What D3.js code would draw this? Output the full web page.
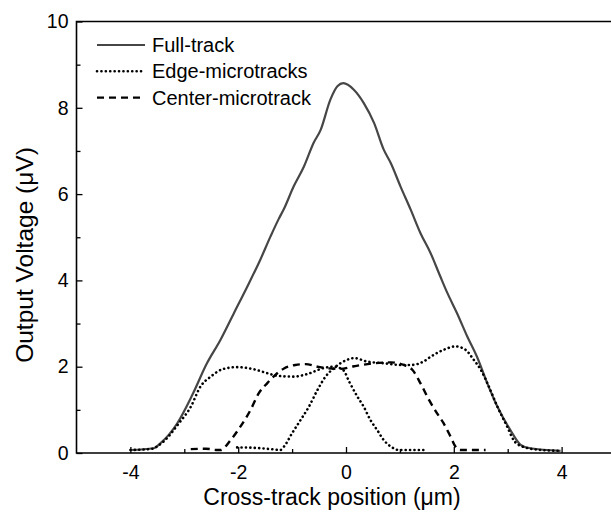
<!DOCTYPE html>
<html>
<head>
<meta charset="utf-8">
<script src="https://cdn.jsdelivr.net/npm/d3@7"></script>
<style>
  html, body { margin: 0; padding: 0; background: #fff; }
  svg { display: block; font-family: "Liberation Sans", Arial, sans-serif; }
</style>
</head>
<body>
<svg id="chart" width="611" height="513"></svg>
<script>
// Cross-track profiles of the read-back voltage
const fullX = [-4.0, -3.57, -3.44, -3.13, -2.85, -2.58, -2.33, -2.08, -1.83, -1.59, -1.40, -1.25, -1.15, -0.97, -0.78, -0.60, -0.47, -0.29, -0.16, -0.05, 0.145, 0.33, 0.52, 0.70, 0.83, 1.01, 1.20, 1.38, 1.57, 1.75, 1.88, 2.06, 2.25, 2.43, 2.62, 2.81, 3.05, 3.24, 3.42, 3.98];
const fullY = [0.07, 0.11, 0.23, 0.69, 1.35, 2.08, 2.62, 3.24, 3.86, 4.48, 5.02, 5.42, 5.66, 6.18, 6.64, 7.19, 7.49, 8.19, 8.50, 8.57, 8.42, 8.11, 7.65, 7.03, 6.72, 6.18, 5.64, 5.10, 4.63, 4.09, 3.71, 3.24, 2.70, 2.23, 1.62, 1.07, 0.53, 0.19, 0.11, 0.05];

const edgeLeftX = [-4.0, -3.63, -3.39, -3.10, -2.88, -2.70, -2.51, -2.27, -2.02, -1.71, -1.46, -1.28, -0.97, -0.72, -0.41, -0.23, -0.05, 0.06, 0.21, 0.33, 0.45, 0.58, 0.70, 0.83, 0.98, 1.47];
const edgeLeftY = [0.07, 0.09, 0.26, 0.69, 1.07, 1.54, 1.77, 1.95, 1.99, 1.94, 1.85, 1.79, 1.77, 1.83, 1.97, 2.00, 1.92, 1.65, 1.31, 1.07, 0.77, 0.53, 0.30, 0.15, 0.07, 0.07];

const edgeRightX = [-2.02, -1.70, -1.40, -1.22, -1.15, -1.00, -0.84, -0.69, -0.53, -0.38, -0.23, 0.02, 0.15, 0.39, 0.70, 1.01, 1.20, 1.44, 1.57, 1.81, 2.03, 2.22, 2.37, 2.50, 2.65, 2.81, 2.99, 3.11, 3.27, 3.61, 3.98];
const edgeRightY = [0.13, 0.12, 0.09, 0.07, 0.15, 0.46, 0.77, 1.07, 1.46, 1.77, 1.96, 2.16, 2.20, 2.12, 2.08, 2.04, 2.04, 2.12, 2.23, 2.39, 2.47, 2.39, 2.16, 1.93, 1.54, 1.07, 0.61, 0.30, 0.15, 0.07, 0.05];

const centerX = [-2.88, -2.60, -2.39, -2.33, -2.14, -1.96, -1.77, -1.62, -1.46, -1.31, -1.15, -0.94, -0.75, -0.53, -0.32, -0.10, 0.15, 0.52, 0.83, 1.07, 1.23, 1.38, 1.54, 1.69, 1.81, 1.94, 2.03, 2.12, 2.59];
const centerY = [0.09, 0.10, 0.07, 0.07, 0.30, 0.61, 1.00, 1.38, 1.62, 1.81, 1.96, 2.04, 2.06, 2.00, 1.96, 1.95, 2.01, 2.08, 2.10, 2.04, 1.93, 1.62, 1.23, 0.92, 0.69, 0.38, 0.15, 0.07, 0.07];

const xMajorTicks = [-4, -2, 0, 2, 4];
const xMinorTicks = [-3, -1, 1, 3];
const yMajorTicks = [0, 2, 4, 6, 8, 10];
const yMinorTicks = [1, 3, 5, 7, 9];

const legendLabels = ["Full-track", "Edge-microtracks", "Center-microtrack"];

const svg = d3.select("#chart");
const W = 611;
const plotLeft = 76.5, plotTop = 21.5, plotBottom = 453;

const x = d3.scaleLinear().domain([-5, 5]).range([plotLeft, plotLeft + 539]);
const y = d3.scaleLinear().domain([0, 10]).range([plotBottom, plotTop]);

const zip = (xs, ys) => xs.map((v, i) => [v, ys[i]]);
const line = d3.line().x(d => x(d[0])).y(d => y(d[1])).curve(d3.curveMonotoneX);

const styles = {
  full:   { stroke: "#464646", width: 2.2, dash: null, cap: "butt" },
  edge:   { stroke: "#000", width: 2.6, dash: "0.1,4.3", cap: "round" },
  center: { stroke: "#000", width: 2.4, dash: "7,5", cap: "butt" }
};

const plot = svg.append("g");
const series = [
  { data: zip(fullX, fullY), s: styles.full },
  { data: zip(edgeLeftX, edgeLeftY), s: styles.edge },
  { data: zip(edgeRightX, edgeRightY), s: styles.edge },
  { data: zip(centerX, centerY), s: styles.center }
];
series.forEach(d => {
  plot.append("path")
    .datum(d.data)
    .attr("d", line)
    .attr("fill", "none")
    .attr("stroke", d.s.stroke)
    .attr("stroke-width", d.s.width)
    .attr("stroke-linecap", d.s.cap)
    .attr("stroke-linejoin", "round")
    .attr("stroke-dasharray", d.s.dash);
});

// Axes: ticks point into the plot area
const fs = 19.5;
const xAxis = d3.axisBottom(x).tickValues(xMajorTicks).tickSize(-6).tickPadding(12)
  .tickFormat(d => d < 0 ? "-" + Math.abs(d) : String(d));
const gx = svg.append("g").attr("transform", `translate(0,${plotBottom})`).call(xAxis);
gx.select(".domain").remove();
gx.selectAll(".tick line").attr("stroke", "#000").attr("stroke-width", 1.3);
gx.selectAll("text").attr("font-size", fs).attr("fill", "#000");

const xMinor = d3.axisBottom(x).tickValues(xMinorTicks).tickSize(-4).tickFormat("");
const gxm = svg.append("g").attr("transform", `translate(0,${plotBottom})`).call(xMinor);
gxm.select(".domain").remove();
gxm.selectAll(".tick line").attr("stroke", "#000").attr("stroke-width", 1.3);

const yAxis = d3.axisLeft(y).tickValues(yMajorTicks).tickSize(-6).tickPadding(8);
const gy = svg.append("g").attr("transform", `translate(${plotLeft},0)`).call(yAxis);
gy.select(".domain").remove();
gy.selectAll(".tick line").attr("stroke", "#000").attr("stroke-width", 1.3);
gy.selectAll("text").attr("font-size", fs).attr("fill", "#000");

const yMinor = d3.axisLeft(y).tickValues(yMinorTicks).tickSize(-4).tickFormat("");
const gym = svg.append("g").attr("transform", `translate(${plotLeft},0)`).call(yMinor);
gym.select(".domain").remove();
gym.selectAll(".tick line").attr("stroke", "#000").attr("stroke-width", 1.3);

// Frame lines (left, bottom, top)
svg.append("path")
  .attr("d", `M${W},${plotTop} H${plotLeft} V${plotBottom} H${W}`)
  .attr("fill", "none").attr("stroke", "#000").attr("stroke-width", 1.6);

// Axis titles
svg.append("text")
  .attr("x", 332).attr("y", 505)
  .attr("text-anchor", "middle").attr("font-size", 23)
  .text("Cross-track position (\u03BCm)");
svg.append("text")
  .attr("transform", "translate(33,255) rotate(-90)")
  .attr("text-anchor", "middle").attr("font-size", 24.5)
  .text("Output Voltage (\u03BCV)");

// Legend
const lg = svg.append("g");
const legStyles = [styles.full, styles.edge, styles.center];
legendLabels.forEach((lab, i) => {
  const ly = 45 + i * 26.3;
  const s = legStyles[i];
  lg.append("line")
    .attr("x1", 97).attr("x2", 145).attr("y1", ly).attr("y2", ly)
    .attr("stroke", s.stroke).attr("stroke-width", s.width)
    .attr("stroke-linecap", s.cap)
    .attr("stroke-dasharray", s.dash);
  lg.append("text")
    .attr("x", 152).attr("y", ly + 7)
    .attr("font-size", 20)
    .text(lab);
});
</script>
</body>
</html>
